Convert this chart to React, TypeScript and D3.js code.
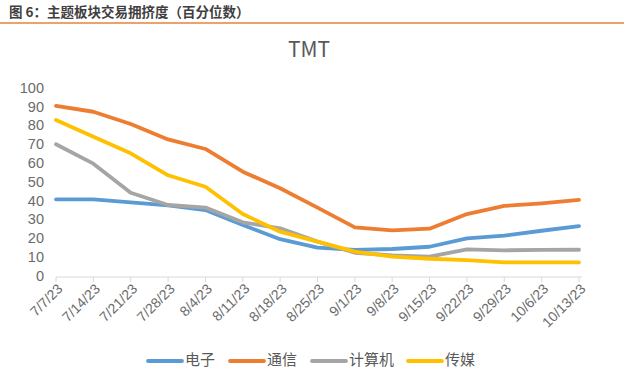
import * as d3 from "d3";

const dates = [
  "7/7/23", "7/14/23", "7/21/23", "7/28/23", "8/4/23", "8/11/23", "8/18/23",
  "8/25/23", "9/1/23", "9/8/23", "9/15/23", "9/22/23", "9/29/23", "10/6/23", "10/13/23",
];

const dianzi = [41.3, 41.3, 39.7, 38.1, 35.6, 27.7, 20.1, 15.6, 14.4, 14.9, 16.1, 20.6, 22.0, 24.6, 27.1];
const tongxin = [91.0, 87.9, 81.4, 73.2, 68.1, 56.0, 47.2, 36.9, 26.4, 24.8, 25.7, 33.5, 37.8, 39.2, 41.0];
const jisuanji = [70.6, 60.3, 44.8, 38.3, 36.9, 29.1, 25.9, 18.8, 12.9, 11.5, 10.8, 14.7, 14.2, 14.4, 14.5];
const chuanmei = [83.5, 74.6, 65.8, 54.1, 48.0, 33.5, 24.1, 18.8, 13.5, 10.8, 9.7, 9.0, 7.8, 7.8, 7.8];

const yTicks = [0, 10, 20, 30, 40, 50, 60, 70, 80, 90, 100];

const series = [
  { name: "电子", values: dianzi, color: "#5B9BD5" },
  { name: "通信", values: tongxin, color: "#ED7D31" },
  { name: "计算机", values: jisuanji, color: "#A5A5A5" },
  { name: "传媒", values: chuanmei, color: "#FFC000" },
];

const W = 628;
const H = 388;
const font = "'Noto Sans CJK SC', 'Noto Sans', sans-serif";
const numFont = "'Liberation Sans', Arial, sans-serif";

export default function App() {
  const x = d3.scalePoint<string>().domain(dates).range([56, 579]);
  const y = d3.scaleLinear().domain([0, 100]).range([277, 89]);

  const line = d3
    .line<number>()
    .x((_, i) => x(dates[i])!)
    .y((d) => y(d));

  // legend item x positions (line start)
  const legendX = [148, 230, 312, 408];

  return (
    <>
      <style>{`body{margin:0}`}</style>
      <svg width={W} height={H} style={{ display: "block", background: "#fff" }}>
        <text
          x={9}
          y={13}
          dominantBaseline="middle"
          fontFamily={font}
          fontWeight="bold"
          fontSize={13.5}
          fill="#3f3f3f"
        >
          图 6：主题板块交易拥挤度（百分位数）
        </text>
        <line x1={0} x2={624} y1={23} y2={23} stroke="#E8833A" strokeWidth={1.3} />

        <text
          x={309}
          y={51}
          textAnchor="middle"
          dominantBaseline="middle"
          fontFamily={font}
          fontSize={21}
          fill="#595959"
        >
          TMT
        </text>

        {yTicks.map((t) => (
          <text
            key={t}
            x={44}
            y={y(t)}
            textAnchor="end"
            dominantBaseline="middle"
            fontFamily={numFont}
            fontSize={14.5}
            fill="#6b6b6b"
          >
            {t}
          </text>
        ))}

        <line x1={56} x2={582} y1={y(0)} y2={y(0)} stroke="#D9D9D9" strokeWidth={1} />
        {dates.map((d) => (
          <line
            key={d}
            x1={x(d)}
            x2={x(d)}
            y1={y(0)}
            y2={y(0) + 5}
            stroke="#D9D9D9"
          />
        ))}
        {dates.map((d) => (
          <text
            key={d}
            transform={`translate(${x(d)! + 5},${y(0) + 10}) rotate(-45)`}
            textAnchor="end"
            dominantBaseline="middle"
            fontFamily={numFont}
            fontSize={14}
            fill="#6b6b6b"
          >
            {d}
          </text>
        ))}

        {series.map((s) => (
          <path
            key={s.name}
            d={line(s.values)!}
            fill="none"
            stroke={s.color}
            strokeWidth={3.8}
            strokeLinejoin="round"
            strokeLinecap="round"
          />
        ))}

        {series.map((s, i) => (
          <g key={s.name} transform={`translate(${legendX[i]},361)`}>
            <line x1={0} x2={34} y1={0} y2={0} stroke={s.color} strokeWidth={3.8} strokeLinecap="round" />
            <text
              x={37}
              y={0}
              dominantBaseline="middle"
              fontFamily={font}
              fontSize={15}
              fill="#595959"
            >
              {s.name}
            </text>
          </g>
        ))}
      </svg>
    </>
  );
}
